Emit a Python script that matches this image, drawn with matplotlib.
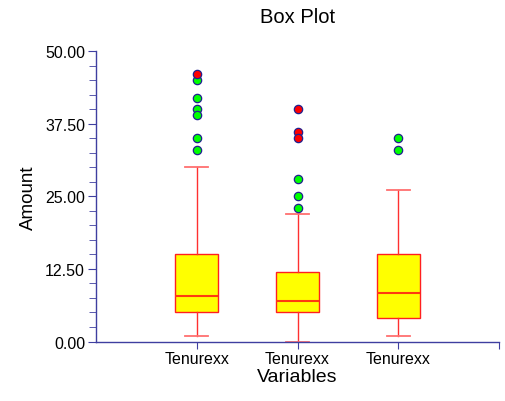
import matplotlib
matplotlib.use("Agg")
import matplotlib.pyplot as plt
from matplotlib.ticker import MultipleLocator, FormatStrFormatter

plt.rcParams['font.family'] = ['Liberation Sans', 'DejaVu Sans']

# valeurs
labels = ["Tenurexx", "Tenurexx", "Tenurexx"]
q1 = [5.0, 5.0, 4.0]
med = [7.8, 6.9, 8.4]
q3 = [15.0, 12.0, 15.0]
whislo = [1.0, 0.0, 1.0]
whishi = [30.0, 22.0, 26.0]
near_out = [[45, 42, 40, 39, 35, 33], [28, 25, 23], [35, 33]]
far_out = [[46], [40, 36, 35], []]

axis_col = "#3f3fa0"

fig = plt.figure(figsize=(5.06, 4.02), dpi=100)
ax = fig.add_axes([0.19, 0.148, 0.796, 0.7225])

stats = []
for i in range(len(labels)):
    stats.append({"q1": q1[i], "med": med[i], "q3": q3[i],
                  "whislo": whislo[i], "whishi": whishi[i], "fliers": []})

ax.bxp(stats, positions=[1, 2, 3], widths=0.43, showfliers=False,
       patch_artist=True,
       boxprops=dict(facecolor="#ffff00", edgecolor="#ff2020", linewidth=1.0),
       medianprops=dict(color="#ff3a10", linewidth=1.5),
       whiskerprops=dict(color="#ff3030", linewidth=1.0),
       capprops=dict(color="#ff7070", linewidth=1.3),
       capwidths=0.23)

for i in range(len(labels)):
    ax.plot([i + 1] * len(near_out[i]), near_out[i], "o", ms=6,
            mfc="#00ff00", mec="#202090", mew=0.9, zorder=5, clip_on=False)
    ax.plot([i + 1] * len(far_out[i]), far_out[i], "o", ms=6,
            mfc="#ff0000", mec="#202090", mew=0.9, zorder=5, clip_on=False)

ax.set_xlim(0, 4)
ax.set_ylim(0, 50)
ax.set_xticks([1, 2, 3, 4])
ax.set_xticklabels(labels + [""])
ax.yaxis.set_major_locator(MultipleLocator(12.5))
ax.yaxis.set_minor_locator(MultipleLocator(2.5))
ax.yaxis.set_major_formatter(FormatStrFormatter("%.2f"))

for s in ["top", "right"]:
    ax.spines[s].set_visible(False)
for s in ["left", "bottom"]:
    ax.spines[s].set_color(axis_col)
    ax.spines[s].set_linewidth(1.0)

ax.tick_params(axis="y", which="major", length=6, color=axis_col, labelsize=11.5, pad=2)
ax.tick_params(axis="y", which="minor", length=5, color=axis_col)
ax.tick_params(axis="x", length=5, color=axis_col, labelsize=11.5, pad=2)

ax.set_xlabel("Variables", fontsize=14, labelpad=1)
ax.set_ylabel("Amount", fontsize=13.5, labelpad=6)
ax.set_title("Box Plot", fontsize=14.5, pad=21)

fig.savefig("out.png", dpi=100)
